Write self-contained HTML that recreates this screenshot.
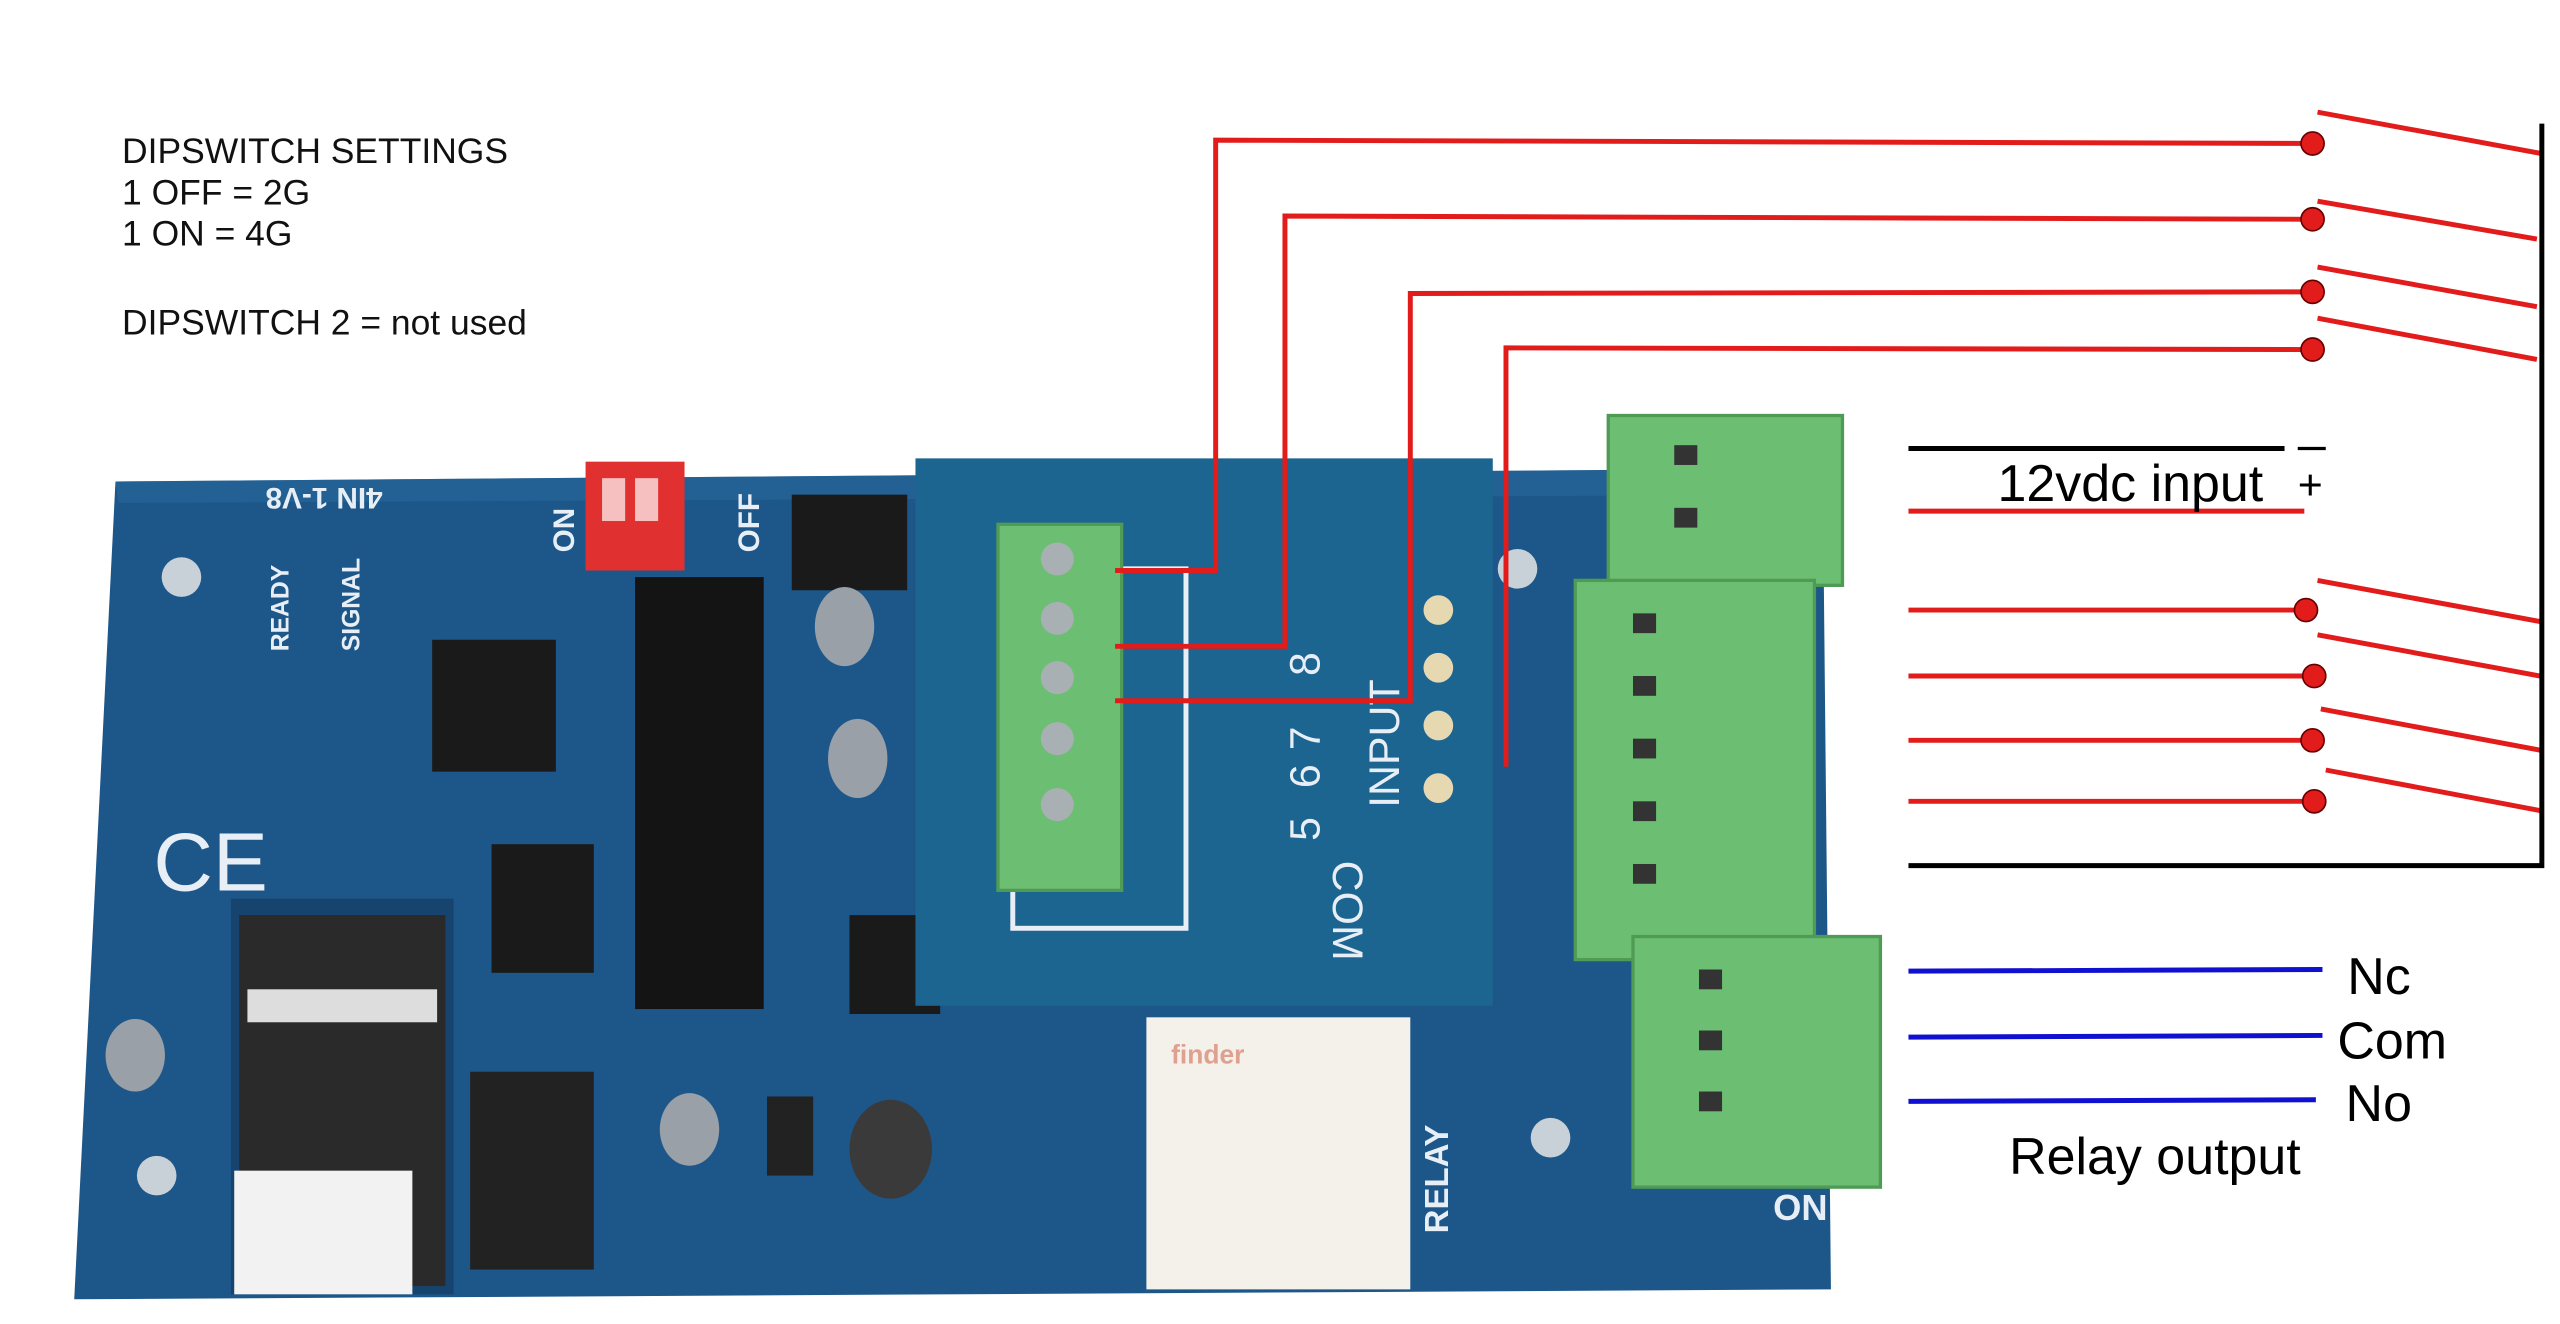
<!DOCTYPE html>
<html><head><meta charset="utf-8"><style>
html,body{margin:0;padding:0;background:#fff;}
svg{display:block;}
text{font-family:"Liberation Sans",sans-serif;}
</style></head><body>
<svg width="2560" height="1324" viewBox="0 0 1552 803" preserveAspectRatio="none" xmlns="http://www.w3.org/2000/svg">
<rect width="1552" height="803" fill="#fff"/>
<!-- left text -->
<g font-size="21.5" fill="#111">
<text x="74" y="99">DIPSWITCH SETTINGS</text>
<text x="74" y="124">1 OFF = 2G</text>
<text x="74" y="149">1 ON = 4G</text>
<text x="74" y="203">DIPSWITCH 2 = not used</text>
</g>
<!-- PCB -->
<polygon points="70,292 1105,284 1110,782 45,788" fill="#1d578a"/>
<polygon points="70,292 1105,284 1108,300 72,305" fill="#2a6a9c" opacity="0.5"/>
<g fill="#17446e">
<rect x="140" y="545" width="135" height="240"/>
<rect x="385" y="350" width="78" height="262" fill="#141414"/>
<rect x="262" y="388" width="75" height="80" fill="#1a1a1a"/>
<rect x="298" y="512" width="62" height="78" fill="#1a1a1a"/>
<rect x="285" y="650" width="75" height="120" fill="#222"/>
<rect x="515" y="555" width="55" height="60" fill="#1a1a1a"/>
<rect x="480" y="300" width="70" height="58" fill="#1a1a1a"/>
</g>
<rect x="145" y="555" width="125" height="225" fill="#2a2a2a"/>
<rect x="150" y="600" width="115" height="20" fill="#ddd"/>
<rect x="142" y="710" width="108" height="75" fill="#f2f2f2"/>
<rect x="355" y="280" width="60" height="66" fill="#e03030"/>
<rect x="365" y="290" width="14" height="26" fill="#f7c0c0"/>
<rect x="385" y="290" width="14" height="26" fill="#f7c0c0"/>
<circle cx="110" cy="350" r="12" fill="#c8d0d8"/>
<circle cx="95" cy="713" r="12" fill="#c8d0d8"/>
<circle cx="920" cy="345" r="12" fill="#c8d0d8"/>
<circle cx="940" cy="690" r="12" fill="#c8d0d8"/>
<ellipse cx="512" cy="380" rx="18" ry="24" fill="#9aa0a8"/>
<ellipse cx="520" cy="460" rx="18" ry="24" fill="#9aa0a8"/>
<ellipse cx="82" cy="640" rx="18" ry="22" fill="#9aa0a8"/>
<ellipse cx="418" cy="685" rx="18" ry="22" fill="#9aa0a8"/>
<ellipse cx="540" cy="697" rx="25" ry="30" fill="#3a3a3a"/>
<rect x="465" y="665" width="28" height="48" fill="#222"/>
<text font-size="18" fill="#e8eef5" font-weight="bold" transform="translate(232,296) rotate(180)">4IN 1-V8</text>
<g font-size="15" fill="#e8eef5" font-weight="bold">
<text transform="translate(175,395) rotate(-90)">READY</text>
<text transform="translate(218,395) rotate(-90)">SIGNAL</text>
<text transform="translate(878,748) rotate(-90)" font-size="20">RELAY</text>
<text transform="translate(460,335) rotate(-90)" font-size="18">OFF</text>
<text transform="translate(348,335) rotate(-90)" font-size="18">ON</text>
<text x="1075" y="740" font-size="22">ON</text>
</g>
<text x="93" y="540" font-size="50" fill="#e8eef5">CE</text>
<!-- relay -->
<rect x="695" y="617" width="160" height="165" fill="#f3f1ea"/>
<text x="710" y="645" font-size="16" fill="#e0a090" font-weight="bold">finder</text>
<!-- daughter board -->
<rect x="555" y="278" width="350" height="332" fill="#1b6590"/>
<rect x="614" y="345" width="105" height="218" fill="none" stroke="#e8eef5" stroke-width="3"/>
<g fill="#e8eef5" font-size="26" font-family="Liberation Mono">
<text transform="translate(800,410) rotate(-90)">8</text>
<text transform="translate(800,455) rotate(-90)">7</text>
<text transform="translate(800,478) rotate(-90)">6</text>
<text transform="translate(800,510) rotate(-90)">5</text>
<text transform="translate(848,490) rotate(-90)">INPUT</text>
<text transform="translate(808,522) rotate(90)">COM</text>
</g>
<g fill="#e6d8b0"><circle cx="872" cy="370" r="9"/><circle cx="872" cy="405" r="9"/><circle cx="872" cy="440" r="9"/><circle cx="872" cy="478" r="9"/></g>
<!-- green terminals -->
<g fill="#6cbf72" stroke="#4f9a55" stroke-width="2">
<rect x="605" y="318" width="75" height="222"/>
<rect x="975" y="252" width="142" height="103"/>
<rect x="955" y="352" width="145" height="230"/>
<rect x="990" y="568" width="150" height="152"/>
</g>
<g fill="#a9b0b4"><circle cx="641" cy="339" r="10"/><circle cx="641" cy="375" r="10"/><circle cx="641" cy="411" r="10"/><circle cx="641" cy="448" r="10"/><circle cx="641" cy="488" r="10"/></g>
<g fill="#333"><rect x="1015" y="270" width="14" height="12"/><rect x="1015" y="308" width="14" height="12"/>
<rect x="990" y="372" width="14" height="12"/><rect x="990" y="410" width="14" height="12"/><rect x="990" y="448" width="14" height="12"/><rect x="990" y="486" width="14" height="12"/><rect x="990" y="524" width="14" height="12"/>
<rect x="1030" y="588" width="14" height="12"/><rect x="1030" y="625" width="14" height="12"/><rect x="1030" y="662" width="14" height="12"/></g>
<!-- red wires -->
<g stroke="#e21b1b" stroke-width="3" fill="none">
<polyline points="676,346 737,346 737,85 1402,87"/>
<polyline points="676,392 779,392 779,131 1402,133"/>
<polyline points="676,425 855,425 855,178 1402,177"/>
<polyline points="913,465 913,211 1402,212"/>
<line x1="1157" y1="310" x2="1397" y2="310"/>
<line x1="1157" y1="370" x2="1398" y2="370"/>
<line x1="1157" y1="410" x2="1403" y2="410"/>
<line x1="1157" y1="449" x2="1402" y2="449"/>
<line x1="1157" y1="486" x2="1403" y2="486"/>
<line x1="1405" y1="68" x2="1540" y2="93"/>
<line x1="1405" y1="122" x2="1538" y2="145"/>
<line x1="1405" y1="162" x2="1538" y2="186"/>
<line x1="1405" y1="193" x2="1538" y2="218"/>
<line x1="1405" y1="352" x2="1540" y2="377"/>
<line x1="1405" y1="385" x2="1540" y2="410"/>
<line x1="1407" y1="430" x2="1540" y2="455"/>
<line x1="1410" y1="467" x2="1542" y2="492"/>
</g>
<g fill="#e21b1b" stroke="#600" stroke-width="1">
<ellipse cx="1402" cy="87" rx="7" ry="7"/><ellipse cx="1402" cy="133" rx="7" ry="7"/><ellipse cx="1402" cy="177" rx="7" ry="7"/><ellipse cx="1402" cy="212" rx="7" ry="7"/>
<ellipse cx="1398" cy="370" rx="7" ry="7"/><ellipse cx="1403" cy="410" rx="7" ry="7"/><ellipse cx="1402" cy="449" rx="7" ry="7"/><ellipse cx="1403" cy="486" rx="7" ry="7"/>
</g>
<g stroke="#000" stroke-width="3" fill="none">
<polyline points="1157,525 1541,525 1541,75"/>
<line x1="1157" y1="272" x2="1385" y2="272"/>
<line x1="1393" y1="272" x2="1410" y2="272" stroke-width="2"/>
</g>
<g stroke="#1010d0" stroke-width="3">
<line x1="1157" y1="589" x2="1408" y2="588"/>
<line x1="1157" y1="629" x2="1408" y2="628"/>
<line x1="1157" y1="668" x2="1404" y2="667"/>
</g>
<g font-size="31.5" fill="#000">
<text x="1211" y="304">12vdc input</text>
<text x="1393" y="303" font-size="26">+</text>
<text x="1423" y="603">Nc</text>
<text x="1417" y="642">Com</text>
<text x="1422" y="680">No</text>
<text x="1218" y="712">Relay output</text>
</g>
</svg>
</body></html>
